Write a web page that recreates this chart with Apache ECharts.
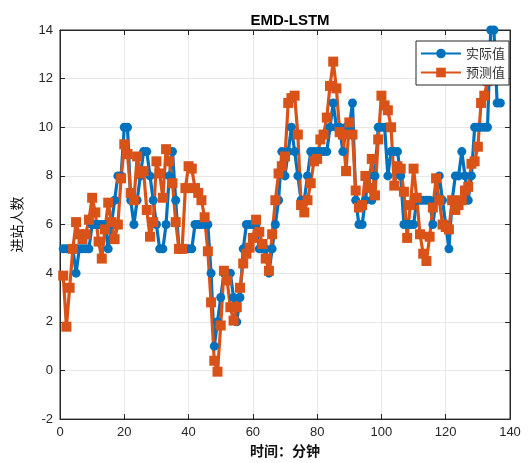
<!DOCTYPE html>
<html><head><meta charset="utf-8">
<script src="https://cdn.jsdelivr.net/npm/echarts@6/dist/echarts.min.js"></script>
<style>html,body{margin:0;padding:0;background:#fff}#c{width:531px;height:463px}</style>
</head><body><div id="c"></div>
<script>
const titleText = 'EMD-LSTM';
const xAxisName = '时间：分钟';
const yAxisName = '进站人数';
const seriesNames = ['实际值', '预测值'];
const xTickValues = [0, 20, 40, 60, 80, 100, 120, 140];
const yTickValues = [-2, 0, 2, 4, 6, 8, 10, 12, 14];

// x = 1..137
const actual = [
  5,5,5,5,4,5,5,5,5,6, 6,6,6,6,5,6,7,8,8,10,
  10,7,6,7,8,9,9,8,7,6, 5,5,6,8,9,7,5,5,5,5,
  5,6,6,6,6,6,4,1,2,3, 4,4,4,3,2,3,5,6,6,6,
  6,5,5,5,4,5,6,7,9,8, 9,10,9,8,7,7,8,9,9,9,
  9,9,9,10,11,10,10,9,10,10, 11,7,6,6,7,8,7,8,10,10,
  10,8,9,9,9,8,6,6,6,6, 7,7,7,7,7,6,7,8,7,6,
  5,7,8,8,9,8,7,8,10,10, 10,10,10,14,14,11,11
];
const predicted = [
  3.9,1.8,3.4,5.0,6.1,5.6,5.4,5.6,6.2,7.1, 6.5,5.3,4.6,5.8,6.9,6.1,5.4,6.0,7.9,9.3,
  8.9,7.3,7.0,8.8,8.1,8.2,6.6,5.5,6.1,8.6, 8.1,7.1,9.1,8.6,7.7,6.1,5.0,5.0,7.5,8.4,
  8.3,7.5,7.3,7.0,6.3,4.9,2.8,0.4,-0.05,1.85, 4.1,3.7,2.6,2.05,2.6,3.4,4.4,4.8,5.05,5.45,
  6.2,5.7,5.2,4.6,4.1,5.6,7.0,8.1,8.4,8.8, 11.0,11.2,11.3,9.7,6.8,6.5,7.0,7.7,8.6,8.7,
  9.5,9.7,10.4,11.7,12.7,11.6,9.8,9.7,8.2,10.2, 9.7,7.4,6.7,6.8,8.0,7.5,8.7,7.2,9.5,11.3,
  10.9,10.7,10.0,7.6,8.4,8.3,7.35,5.45,6.8,8.3, 7.1,5.6,4.8,4.5,5.5,6.7,7.9,7.0,6.0,5.9,
  5.8,7.0,6.6,6.8,7.0,7.4,7.55,8.5,8.6,9.2, 11.0,11.3,11.9,12.4,13.0,13.2,12.8
];

const toPairs = arr => arr.map((v, i) => [i + 1, v]);
const axisColor = '#262626';
const font = 'Liberation Sans, Arial, sans-serif';
const cjk = '"Noto Sans CJK SC", sans-serif';

const chart = echarts.init(document.getElementById('c'), null, {renderer: 'canvas'});
const xBase = {
  type: 'value', min: xTickValues[0], max: xTickValues[xTickValues.length - 1],
  interval: xTickValues[1] - xTickValues[0]
};
const yBase = {
  type: 'value', min: yTickValues[0], max: yTickValues[yTickValues.length - 1],
  interval: yTickValues[1] - yTickValues[0]
};
chart.setOption({
  animation: false,
  backgroundColor: '#fff',
  title: {
    text: titleText, left: 285, top: 8, textAlign: 'center',
    textStyle: {fontFamily: font, fontSize: 15, fontWeight: 'bold', color: '#000'}
  },
  grid: {left: 60, right: 21, top: 30, bottom: 40, show: true, borderColor: axisColor, borderWidth: 1, backgroundColor: '#fff'},
  legend: {
    orient: 'vertical', left: 416, top: 41, z: 10,
    backgroundColor: '#fff', borderColor: axisColor, borderWidth: 1, borderRadius: 0,
    padding: [6, 4, 6, 4], itemGap: 6, itemWidth: 40, itemHeight: 12,
    textStyle: {fontFamily: cjk, fontSize: 13, color: '#333'},
    data: seriesNames
  },
  xAxis: [
    Object.assign({}, xBase, {
      position: 'bottom',
      axisLine: {show: true, onZero: false, lineStyle: {color: axisColor, width: 1}},
      axisTick: {show: true, inside: true, length: 5, lineStyle: {color: axisColor}},
      axisLabel: {color: axisColor, fontFamily: font, fontSize: 13, margin: 7},
      splitLine: {show: true, lineStyle: {color: '#e8e8e8', width: 1}},
      name: xAxisName, nameLocation: 'middle', nameGap: 24,
      nameTextStyle: {fontFamily: cjk, fontSize: 14, fontWeight: 'bold', color: '#111'}
    }),
    Object.assign({}, xBase, {
      position: 'top',
      axisLine: {show: true, onZero: false, lineStyle: {color: axisColor, width: 1}},
      axisTick: {show: true, inside: true, length: 5, lineStyle: {color: axisColor}},
      axisLabel: {show: false}, splitLine: {show: false}
    })
  ],
  yAxis: [
    Object.assign({}, yBase, {
      position: 'left',
      axisLine: {show: true, onZero: false, lineStyle: {color: axisColor, width: 1}},
      axisTick: {show: true, inside: true, length: 5, lineStyle: {color: axisColor}},
      axisLabel: {color: axisColor, fontFamily: font, fontSize: 13, margin: 7},
      splitLine: {show: true, lineStyle: {color: '#e8e8e8', width: 1}},
      name: yAxisName, nameLocation: 'middle', nameGap: 36, nameRotate: 90,
      nameTextStyle: {fontFamily: cjk, fontSize: 14, fontWeight: 'normal', color: '#111'}
    }),
    Object.assign({}, yBase, {
      position: 'right',
      axisLine: {show: true, onZero: false, lineStyle: {color: axisColor, width: 1}},
      axisTick: {show: true, inside: true, length: 5, lineStyle: {color: axisColor}},
      axisLabel: {show: false}, splitLine: {show: false}
    })
  ],
  series: [
    {
      name: seriesNames[0], type: 'line', data: toPairs(actual),
      xAxisIndex: 0, yAxisIndex: 0,
      symbol: 'circle', symbolSize: 9,
      lineStyle: {color: '#0072BD', width: 3.2},
      itemStyle: {color: '#0072BD'}
    },
    {
      name: seriesNames[1], type: 'line', data: toPairs(predicted),
      xAxisIndex: 0, yAxisIndex: 0,
      symbol: 'rect', symbolSize: 10,
      lineStyle: {color: '#D95319', width: 3.2},
      itemStyle: {color: '#D95319'}
    }
  ]
});
</script>
</body></html>
